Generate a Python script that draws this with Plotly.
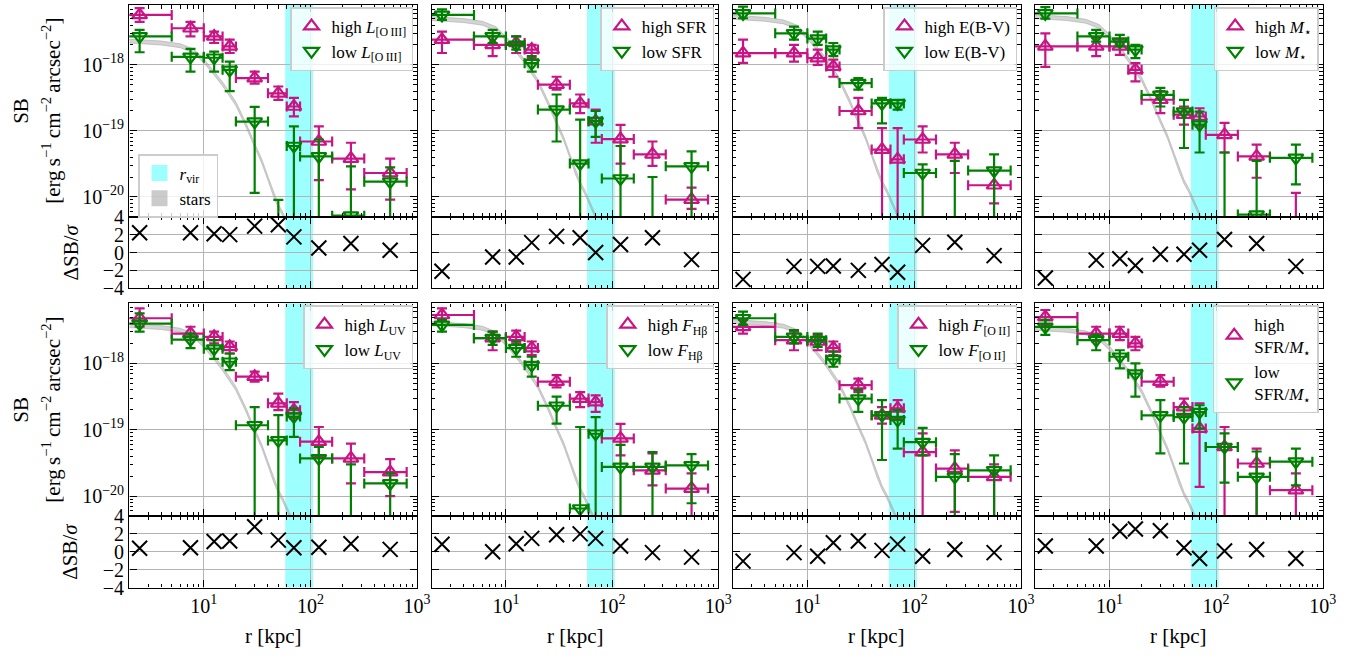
import numpy as np
import plotly.graph_objects as go

W, H = 1363, 656
FONT = "Liberation Serif, Times New Roman, Times, serif"
MAGENTA = "#C71585"
GREEN = "#008000"

# ---------------- data ----------------
r_kpc = [2.5, 7.5, 12.5, 17.5, 30, 50, 70, 120, 240, 560]
bin_lo = [0, 5, 10, 15, 20, 40, 60, 80, 160, 320]
bin_hi = [5, 10, 15, 20, 40, 60, 80, 160, 320, 800]
r_vir = [58, 106]

SB_UNIT = 1e-20  # all SB lists below are in units of 1e-20 erg/s/cm2/arcsec2 (0 = bar extends below axis)

# Panel 1: L_[OIII]
p1_high = [569, 358, 269, 190, 63, 37, 23.4, 6.9, 3.8, 2.3]
p1_high_up = [724, 447, 318, 240, 79, 47, 31.6, 11.7, 6.6, 3.8]
p1_high_lo = [447, 269, 214, 151, 52, 29.5, 16.6, 1.8, 1.3, 0.91]
p1_low = [269, 132, 128, 84, 13.8, 0.3, 5.9, 4.1, 0.52, 1.7]
p1_low_up = [339, 174, 158, 112, 23, 0.9, 11.7, 7.4, 2.9, 2.8]
p1_low_lo = [155, 79, 79, 40, 1.15, 0, 0, 0, 0, 0]
p1_resid = [2.2, 2.2, 2.1, 2.0, 2.95, 3.1, 1.75, 0.5, 1.0, 0.25]

# Panel 2: SFR
p2_high = [240, 200, 214, 170, 50, 26, 14, 7.5, 4.4, 0.91]
p2_high_up = [318, 269, 269, 200, 66, 35.5, 21, 12.3, 6.9, 1.38]
p2_high_lo = [151, 135, 151, 126, 42, 18.6, 6.6, 3.2, 2.95, 0.66]
p2_low = [569, 269, 200, 106, 21, 3.2, 14, 1.9, 0.2, 2.9]
p2_low_up = [692, 339, 269, 135, 35.5, 14.8, 20, 5.9, 2.0, 4.9]
p2_low_lo = [479, 214, 170, 79, 6.9, 0, 8.1, 0, 0, 0]
p2_resid = [-2.1, -0.5, -0.5, 1.1, 1.8, 1.65, 0.0, 0.9, 1.65, -0.8]

# Panel 3: E(B-V)
p3_high = [150, 150, 126, 94, 20, 5.2, 3.7, 7.4, 4.4, 1.5]
p3_high_up = [240, 200, 170, 120, 31.6, 11, 11, 11.7, 6.6, 2.5]
p3_high_lo = [107, 112, 100, 66, 11, 0, 0, 4.7, 2.3, 0.8]
p3_low = [600, 300, 250, 170, 53, 26, 26, 2.3, 0.2, 2.5]
p3_low_up = [760, 380, 318, 214, 63, 31.6, 29.5, 3.1, 3.5, 4.4]
p3_low_lo = [507, 240, 200, 135, 42, 13, 21, 0, 0, 0]
p3_resid = [-3.0, -1.55, -1.55, -1.5, -2.0, -1.35, -2.2, 0.8, 1.15, -0.35]

# Panel 4: M_star
p4_high = [190, 190, 190, 84, 29.6, 17.6, 16.5, 8.7, 4.1, 0.3]
p4_high_up = [300, 254, 240, 106, 40, 23.4, 22, 13.2, 6.2, 1.15]
p4_high_lo = [93, 135, 141, 56, 18.6, 12.4, 11.7, 4.7, 1.95, 0]
p4_low = [600, 269, 225, 170, 35, 19.6, 12.4, 0.3, 0.54, 3.9]
p4_low_up = [750, 339, 285, 200, 44.7, 29.5, 19.6, 4.7, 3.5, 6.2]
p4_low_lo = [500, 225, 190, 126, 23.4, 5.5, 4.7, 0, 0, 1.55]
p4_resid = [-2.85, -0.85, -0.7, -1.45, -0.2, -0.2, 0.25, 1.45, 1.0, -1.55]

# Panel 5: L_UV
p5_high = [479, 282, 251, 178, 63, 25, 19.7, 6.6, 3.7, 2.3]
p5_high_up = [676, 357, 302, 214, 75, 35, 26, 11, 6.2, 3.6]
p5_high_lo = [357, 224, 200, 141, 53, 19.7, 14.8, 3.9, 1.55, 1.0]
p5_low = [398, 229, 167, 106, 11.7, 6.9, 15.8, 3.7, 0.3, 1.55]
p5_low_up = [569, 282, 224, 141, 22, 16.6, 21, 5.5, 3.0, 2.2]
p5_low_lo = [302, 170, 117, 79, 0, 0, 7.8, 0, 0, 0]
p5_resid = [0.4, 0.45, 1.15, 1.2, 2.8, 1.3, 0.45, 0.5, 0.9, 0.27]

# Panel 6: F_Hbeta
p6_high = [537, 240, 251, 170, 53, 29.5, 26, 7.4, 2.45, 1.3]
p6_high_up = [676, 302, 311, 214, 66.5, 37, 33, 12.3, 4.4, 2.2]
p6_high_lo = [452, 158, 200, 133, 43.5, 22, 18.6, 4.1, 1.45, 0]
p6_low = [380, 240, 170, 94, 23, 0.65, 8.7, 2.75, 2.75, 2.9]
p6_low_up = [452, 302, 214, 126, 31.6, 11, 15.5, 5.9, 4.6, 4.3]
p6_low_lo = [302, 190, 126, 63, 12.4, 0, 0, 0, 0, 0.78]
p6_resid = [0.84, 0.0, 0.9, 1.5, 1.9, 2.0, 1.5, 0.65, -0.1, -0.6]

# Panel 7: F_[OII]
p7_high = [355, 224, 214, 170, 47, 16.5, 21, 4.6, 2.6, 1.95]
p7_high_up = [452, 302, 269, 214, 59, 22, 28, 8.8, 4.9, 3.0]
p7_high_lo = [282, 158, 158, 133, 37, 12.4, 14.8, 0, 0.58, 0]
p7_low = [479, 251, 224, 115, 29.5, 16.5, 14, 6.5, 1.95, 2.45]
p7_low_up = [603, 318, 282, 150, 40, 28, 19.7, 10.7, 4.3, 4.1]
p7_low_lo = [380, 200, 178, 89, 18.6, 3.5, 5.2, 4.1, 0, 0]
p7_resid = [-1.05, -0.1, -0.5, 1.0, 1.2, 0.15, 0.85, -0.5, 0.25, -0.1]

# Panel 8: SFR/M_star
p8_high = [500, 282, 282, 200, 53, 22, 10.4, 5.5, 3.1, 1.23]
p8_high_up = [638, 357, 357, 251, 66.5, 29.5, 25, 11, 5.2, 2.2]
p8_high_lo = [380, 214, 224, 158, 44.5, 16.6, 1.38, 0, 0, 0]
p8_low = [355, 224, 126, 70, 16.5, 15.5, 18.5, 5.5, 1.95, 3.3]
p8_low_up = [452, 269, 158, 100, 28, 22, 23.4, 8.8, 4.7, 5.2]
p8_low_lo = [269, 158, 84, 31.6, 4.4, 3.1, 10.4, 1.6, 0, 1.45]
p8_resid = [0.65, 0.65, 2.3, 2.55, 2.35, 0.45, -0.75, 0.08, 0.25, -0.75]

# stellar profile: shape (dex relative to r=2 kpc) and per-panel level at 2 kpc (log SB)
stars_r = [2, 4, 6, 8, 10, 12, 15, 20, 25, 30, 35, 40, 45, 50, 55, 60, 70, 80]
stars_rel_dex = [0, -0.03, -0.07, -0.15, -0.30, -0.45, -0.65, -0.95, -1.28, -1.58,
                 -1.82, -2.08, -2.32, -2.50, -2.62, -2.75, -3.0, -3.3]
stars_norm_log = [-17.64, -17.30, -17.28, -17.27, -17.43, -17.40, -17.37, -17.47]
stars_halfwidth_dex = 0.03

labels_high = ["high <i>L</i><sub>[O\u2009III]</sub>", "high SFR", "high E(B-V)",
               "high <i>M</i><sub>\u22c6</sub>", "high <i>L</i><sub>UV</sub>",
               "high <i>F</i><sub>H\u03b2</sub>", "high <i>F</i><sub>[O\u2009II]</sub>",
               "high<br>SFR/<i>M</i><sub>\u22c6</sub>"]
labels_low = ["low <i>L</i><sub>[O\u2009III]</sub>", "low SFR", "low E(B-V)",
              "low <i>M</i><sub>\u22c6</sub>", "low <i>L</i><sub>UV</sub>",
              "low <i>F</i><sub>H\u03b2</sub>", "low <i>F</i><sub>[O\u2009II]</sub>",
              "low<br>SFR/<i>M</i><sub>\u22c6</sub>"]

panels = [
    (p1_high, p1_high_up, p1_high_lo, p1_low, p1_low_up, p1_low_lo, p1_resid),
    (p2_high, p2_high_up, p2_high_lo, p2_low, p2_low_up, p2_low_lo, p2_resid),
    (p3_high, p3_high_up, p3_high_lo, p3_low, p3_low_up, p3_low_lo, p3_resid),
    (p4_high, p4_high_up, p4_high_lo, p4_low, p4_low_up, p4_low_lo, p4_resid),
    (p5_high, p5_high_up, p5_high_lo, p5_low, p5_low_up, p5_low_lo, p5_resid),
    (p6_high, p6_high_up, p6_high_lo, p6_low, p6_low_up, p6_low_lo, p6_resid),
    (p7_high, p7_high_up, p7_high_lo, p7_low, p7_low_up, p7_low_lo, p7_resid),
    (p8_high, p8_high_up, p8_high_lo, p8_low, p8_low_up, p8_low_lo, p8_resid),
]

# ---------------- layout geometry (pixels) ----------------
col_px = [(129.3, 417.0), (431.7, 718.3), (732.7, 1021.0), (1035.0, 1322.7)]
row_main_px = [(5.0, 216.7), (303.3, 516.0)]
row_res_px = [(216.7, 288.3), (516.0, 587.5)]

def fx(px):
    return px / W

def fy(py):
    return 1 - py / H

x_range = [np.log10(2.0), 3.0]
y_range = [-20.3, -17.094]
minor_x = [k * 10 ** e for e in range(0, 3) for k in range(2, 10)]
minor_y = [k * 10.0 ** e for e in range(-21, -17) for k in range(2, 10)]
TICKFONT = dict(family=FONT, size=20, color="black")
LEGFONT = dict(family=FONT, size=17, color="black")

fig = go.Figure()
layout = {}
shapes = []

def floor_pos(v, floor):
    return v if v > 0 else floor

x_lo_plot = [floor_pos(v, 1e-3) for v in bin_lo]
x_minus = [r - lo for r, lo in zip(r_kpc, x_lo_plot)]
x_plus = [hi - r for r, hi in zip(r_kpc, bin_hi)]

# legend-only entries for the r_vir / stars key (panel 1)
fig.add_trace(go.Scatter(x=[None], y=[None], mode="markers", name="<i>r</i><sub>vir</sub>",
                         legend="legend9", xaxis="x", yaxis="y",
                         marker=dict(symbol="square", size=17, color="rgba(0,255,255,0.38)")))
fig.add_trace(go.Scatter(x=[None], y=[None], mode="markers", name="stars",
                         legend="legend9", xaxis="x", yaxis="y",
                         marker=dict(symbol="square", size=17, color="rgba(160,160,160,0.55)")))

for p in range(8):
    row, col = divmod(p, 4)
    mid, rid = 2 * p + 1, 2 * p + 2
    mx = "x" if mid == 1 else f"x{mid}"
    my = "y" if mid == 1 else f"y{mid}"
    rx, ry = f"x{rid}", f"y{rid}"
    legname = "legend" if p == 0 else f"legend{p + 1}"
    c0, c1 = col_px[col]

    axcommon = dict(showline=True, linecolor="black", linewidth=1.4, mirror="allticks",
                    ticks="inside", tickcolor="black", tickwidth=1.2, ticklen=7,
                    showgrid=True, gridcolor="#b4b4b4", gridwidth=1.2, zeroline=False,
                    tickfont=TICKFONT)
    xcfg = dict(type="log", range=x_range, tickmode="array", tickvals=[10, 100, 1000],
                ticktext=["10<sup>1</sup>", "10<sup>2</sup>", "10<sup>3</sup>"],
                minor=dict(tickmode="array", tickvals=minor_x, ticks="inside", ticklen=3.5,
                           tickwidth=1, tickcolor="black", showgrid=False),
                domain=[fx(c0), fx(c1)], **axcommon)
    layout["xaxis" if mid == 1 else f"xaxis{mid}"] = dict(xcfg, anchor=my, showticklabels=False)
    layout[f"xaxis{rid}"] = dict(xcfg, anchor=ry, matches=mx, showticklabels=(row == 1))
    layout["yaxis" if mid == 1 else f"yaxis{mid}"] = dict(
        type="log", range=y_range, tickmode="array", tickvals=[1e-20, 1e-19, 1e-18],
        ticktext=["10<sup>\u221220</sup>", "10<sup>\u221219</sup>", "10<sup>\u221218</sup>"],
        minor=dict(tickmode="array", tickvals=minor_y, ticks="inside", ticklen=3.5,
                   tickwidth=1, tickcolor="black", showgrid=False),
        domain=[fy(row_main_px[row][1]), fy(row_main_px[row][0])], anchor=mx,
        showticklabels=(col == 0), **axcommon)
    layout[f"yaxis{rid}"] = dict(
        range=[-4, 4], tickmode="array", tickvals=[-4, -2, 0, 2, 4],
        ticktext=["\u22124", "\u22122", "0", "2", "4"],
        domain=[fy(row_res_px[row][1]), fy(row_res_px[row][0])], anchor=rx,
        showticklabels=(col == 0), **axcommon)

    layout[legname] = dict(x=fx(c1 - 4), xanchor="right", y=fy(row_main_px[row][0] + 2), yanchor="top",
                           bgcolor="rgba(255,255,255,0.8)", bordercolor="#cccccc", borderwidth=1.5,
                           font=LEGFONT, tracegroupgap=0, itemwidth=30, traceorder="normal")

    # r_vir band
    for xr, yr in ((mx, my), (rx, ry)):
        shapes.append(dict(type="rect", xref=xr, yref=f"{yr} domain", x0=r_vir[0], x1=r_vir[1],
                           y0=0, y1=1, fillcolor="rgba(0,255,255,0.38)", line=dict(width=0),
                           layer="below"))

    # stars band
    s_up = [10 ** (stars_norm_log[p] + d + stars_halfwidth_dex) for d in stars_rel_dex]
    s_dn = [10 ** (stars_norm_log[p] + d - stars_halfwidth_dex) for d in stars_rel_dex]
    fig.add_trace(go.Scatter(x=stars_r + stars_r[::-1], y=s_up + s_dn[::-1], fill="toself",
                             fillcolor="rgba(160,160,160,0.45)", mode="lines",
                             line=dict(color="rgba(160,160,160,0.5)", width=1),
                             showlegend=False, xaxis=mx, yaxis=my, hoverinfo="skip"))

    hi, hi_up, hi_lo, lo, lo_up, lo_lo, res = panels[p]
    for vals, ups, los, color, sym, name in (
            (hi, hi_up, hi_lo, MAGENTA, "triangle-up-open", labels_high[p]),
            (lo, lo_up, lo_lo, GREEN, "triangle-down-open", labels_low[p])):
        y = [v * SB_UNIT for v in vals]
        yplus = [(u - v) * SB_UNIT for u, v in zip(ups, vals)]
        yminus = [(v - floor_pos(l, 1e-5)) * SB_UNIT for v, l in zip(vals, los)]
        fig.add_trace(go.Scatter(
            x=r_kpc, y=y, mode="markers", name=name, legend=legname, xaxis=mx, yaxis=my,
            marker=dict(symbol=sym, size=13, color=color, line=dict(width=2.2, color=color)),
            error_y=dict(type="data", symmetric=False, array=yplus, arrayminus=yminus,
                         color=color, thickness=2.2, width=5),
            error_x=dict(type="data", symmetric=False, array=x_plus, arrayminus=x_minus,
                         color=color, thickness=2.2, width=5)))

    fig.add_trace(go.Scatter(x=r_kpc, y=res, mode="markers", showlegend=False, xaxis=rx, yaxis=ry,
                             marker=dict(symbol="x-thin", size=15, color="black",
                                         line=dict(width=2, color="black"))))

layout["legend9"] = dict(x=fx(138), xanchor="left", y=fy(154), yanchor="top",
                         bgcolor="rgba(255,255,255,0.8)", bordercolor="#cccccc", borderwidth=1.5,
                         font=LEGFONT, tracegroupgap=0, itemwidth=30, traceorder="normal")

annotations = []
for row in range(2):
    m0, m1 = row_main_px[row]
    r0, r1 = row_res_px[row]
    annotations.append(dict(text="SB", x=fx(21), y=fy((m0 + m1) / 2), xref="paper", yref="paper",
                            textangle=-90, showarrow=False, xanchor="center", yanchor="middle",
                            font=dict(family=FONT, size=21, color="black")))
    annotations.append(dict(text="[erg\u2009s<sup>\u22121</sup>\u2009cm<sup>\u22122</sup>\u2009arcsec<sup>\u22122</sup>]",
                            x=fx(52), y=fy((m0 + m1) / 2), xref="paper", yref="paper",
                            textangle=-90, showarrow=False, xanchor="center", yanchor="middle",
                            font=dict(family=FONT, size=21, color="black")))
    annotations.append(dict(text="\u0394SB/<i>\u03c3</i>", x=fx(70), y=fy((r0 + r1) / 2), xref="paper",
                            yref="paper", textangle=-90, showarrow=False, xanchor="center",
                            yanchor="middle", font=dict(family=FONT, size=21, color="black")))
for col in range(4):
    c0, c1 = col_px[col]
    annotations.append(dict(text="r [kpc]", x=fx((c0 + c1) / 2), y=fy(636), xref="paper", yref="paper",
                            showarrow=False, xanchor="center", yanchor="middle",
                            font=dict(family=FONT, size=21, color="black")))

fig.update_layout(**layout)
fig.update_layout(width=W, height=H, margin=dict(l=0, r=0, t=0, b=0, autoexpand=False),
                  paper_bgcolor="white", plot_bgcolor="white", shapes=shapes,
                  annotations=annotations, font=dict(family=FONT, color="black"))
fig.write_html("out.html", config={"displayModeBar": False},
               post_script="document.body.style.margin='0px';document.body.style.overflow='hidden';")
